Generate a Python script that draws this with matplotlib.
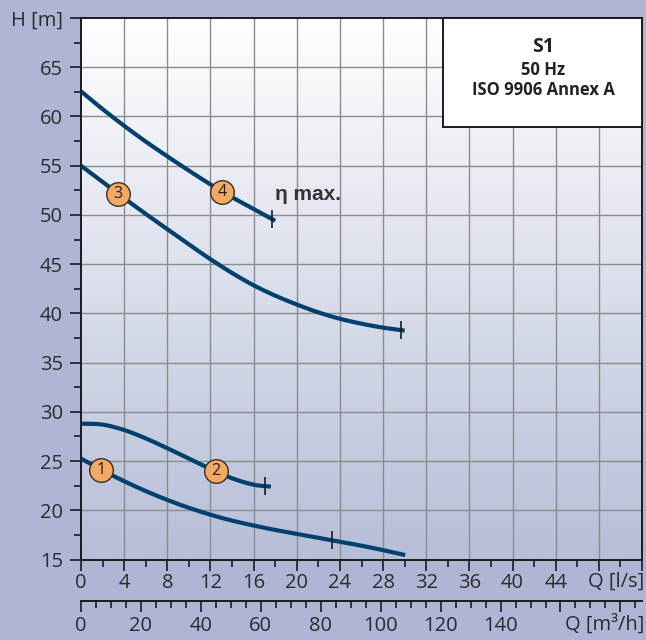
import numpy as np
import matplotlib
matplotlib.use("Agg")
import matplotlib.pyplot as plt
from matplotlib.patches import Rectangle

# ---- data (Q in l/s, H in m) ----
q_c1 = [0, 2, 4, 6, 8, 10, 12, 14, 16, 18, 20, 22, 24, 26, 28, 30.05]
h_c1 = [25.25, 24.05, 22.95, 21.95, 21.05, 20.25, 19.55, 18.95, 18.45, 18.0, 17.6, 17.2, 16.8, 16.4, 15.95, 15.45]

q_c2 = [0, 2, 4, 6, 8, 10, 12, 14, 16, 17.6]
h_c2 = [28.8, 28.7, 28.15, 27.3, 26.3, 25.25, 24.2, 23.25, 22.6, 22.4]

q_c3 = [0, 2, 4, 6, 8, 10, 12, 14, 16, 18, 20, 22, 24, 26, 28, 30]
h_c3 = [55.0, 53.35, 51.7, 50.1, 48.55, 47.0, 45.5, 44.1, 42.85, 41.8, 40.9, 40.1, 39.45, 38.95, 38.55, 38.25]

q_c4 = [0, 2, 4, 6, 8, 10, 12, 14, 16, 18.0]
h_c4 = [62.55, 60.75, 59.05, 57.45, 55.95, 54.5, 53.1, 51.8, 50.6, 49.4]

curve_labels = ["1", "2", "3", "4"]
label_q = [1.85, 12.5, 3.45, 13.1]      # position of numbered circles (l/s)
etamax_q = [23.25, 17.1, 29.67, 17.7]    # eta max tick positions (l/s)

x_ticks_ls = list(range(0, 49, 4))
x_tick_labels_ls = [str(v) for v in range(0, 45, 4)] + [""]
y_ticks = list(range(15, 71, 5))
y_tick_labels = [str(v) for v in range(15, 66, 5)] + ["H [m]"]
x_ticks_m3h = list(range(0, 181, 20))
x_tick_labels_m3h = [str(v) for v in range(0, 141, 20)] + ["", ""]

legend_lines = ["S1", "50 Hz", "ISO 9906 Annex A"]
eta_text = "η max."

# ---- style ----
FONT = "Open Sans"
plt.rcParams['font.family'] = [FONT, 'DejaVu Sans']
BG = "#afb6d5"
CURVE = "#00406e"
TXT = "#2b2b2b"
FS = 14.5


def smooth(xs, ys, n=12):
    """Catmull-Rom spline through the given points (for drawing only)."""
    p = np.column_stack([xs, ys]).astype(float)
    p = np.vstack([2 * p[0] - p[1], p, 2 * p[-1] - p[-2]])
    out = []
    for i in range(1, len(p) - 2):
        p0, p1, p2, p3 = p[i - 1], p[i], p[i + 1], p[i + 2]
        tt = np.linspace(0, 1, n, endpoint=False)[:, None]
        seg = 0.5 * ((2 * p1) + (-p0 + p2) * tt + (2 * p0 - 5 * p1 + 4 * p2 - p3) * tt ** 2
                     + (-p0 + 3 * p1 - 3 * p2 + p3) * tt ** 3)
        out.append(seg)
    out.append(p[-2][None, :])
    out = np.vstack(out)
    return out[:, 0], out[:, 1]


fig = plt.figure(figsize=(6.46, 6.40), dpi=100, facecolor=BG)
W, H = 646, 640
l, r, b, t = 81, 642, 559.5, 18
ax = fig.add_axes([l / W, 1 - b / H, (r - l) / W, (b - t) / H])
ax.set_xlim(0, 52)
ax.set_ylim(15, 70)

# gradient background
grad = np.linspace(0, 1, 256).reshape(-1, 1)
top = np.array([1.0, 1.0, 1.0])
bot = np.array([182, 190, 216]) / 255.0
img = top[None, None, :] * (1 - grad[:, :, None]) + bot[None, None, :] * grad[:, :, None]
ax.imshow(img, extent=[0, 52, 15, 70], aspect='auto', origin='upper', zorder=-2)

# grid
for xv in range(4, 52, 4):
    ax.axvline(xv, color="#8c8c8c", lw=1.0, zorder=-1)
for yv in range(20, 70, 5):
    ax.axhline(yv, color="#8c8c8c", lw=1.0, zorder=-1)

for s in ax.spines.values():
    s.set_color("#1a1a1a")
    s.set_linewidth(1.4)

ax.set_xticks(x_ticks_ls + [52])
ax.set_xticklabels(x_tick_labels_ls + [""])
ax.set_xticks(np.arange(2, 52, 4), minor=True)
ax.set_yticks(y_ticks)
ax.set_yticklabels(y_tick_labels)
ax.set_yticks(np.arange(17.5, 70, 5), minor=True)
ax.tick_params(axis='both', which='major', direction='out', length=8, width=1.2,
               color="#1a1a1a", labelsize=FS, labelcolor=TXT)
ax.tick_params(axis='both', which='minor', direction='out', length=5, width=1.2, color="#1a1a1a")
ax.tick_params(axis='x', which='major', pad=2)
ax.tick_params(axis='y', which='major', pad=5)

# secondary x axis (m3/h)
axh = (b - t)
sec = ax.secondary_xaxis(-(601 - b) / axh, functions=(lambda q: np.asarray(q) * 3.6,
                                                       lambda m: np.asarray(m) / 3.6))
sec.set_xticks(x_ticks_m3h)
sec.set_xticklabels(x_tick_labels_m3h)
sec.set_xticks(np.arange(5, 188, 5), minor=True)
sec.tick_params(axis='x', which='major', direction='out', length=8, width=1.2,
                color="#1a1a1a", labelsize=FS, labelcolor=TXT, pad=3)
sec.tick_params(axis='x', which='minor', direction='out', length=5, width=1.2, color="#1a1a1a")
for s in sec.spines.values():
    s.set_color("#1a1a1a")
    s.set_linewidth(1.4)

fig.text(644 / W, 1 - 582 / H, "Q [l/s]", ha='right', va='center', fontsize=FS, color=TXT)
fig.text(644 / W, 1 - 625 / H, "Q [m³/h]", ha='right', va='center', fontsize=FS, color=TXT)

# curves
curves = [(q_c1, h_c1), (q_c2, h_c2), (q_c3, h_c3), (q_c4, h_c4)]
for (qq, hh), lab, lq, eq in zip(curves, curve_labels, label_q, etamax_q):
    sx, sy = smooth(qq, hh)
    ax.plot(sx, sy, color=CURVE, lw=3.0, solid_capstyle='butt', solid_joinstyle='round', zorder=3)
    ey = np.interp(eq, sx, sy)
    ax.plot([eq], [ey], marker='|', markersize=13, mew=1.2, color="#1a1a1a", zorder=4)
    ly = np.interp(lq, sx, sy)
    ax.plot([lq], [ly], marker='o', markersize=17, mfc="#f2a964", mec="#3a3024", mew=1.0, zorder=5)
    ax.text(lq, ly, lab, ha='center', va='center', fontsize=11.5, color="#222222", zorder=6)

ax.text(17.95, 52.1, eta_text, ha='left', va='center', fontsize=15, fontweight='bold',
        color="#333333", family=['Liberation Sans', 'DejaVu Sans'], zorder=6)

# legend box (axes fraction)
x0 = (443 - l) / (r - l)
y0 = (b - 127) / (b - t)
ax.add_patch(Rectangle((x0, y0), 1 - x0, 1 - y0, transform=ax.transAxes, facecolor='white',
                       edgecolor='#1a1a1a', lw=1.4, zorder=7, clip_on=False))
cx = (543 - l) / (r - l)
for txt, ypx, fs in zip(legend_lines, [47, 70, 90], [14, 12, 12]):
    ax.text(cx, (b - ypx) / (b - t), txt, transform=ax.transAxes, ha='center', va='center',
            fontsize=fs, fontweight='bold', color="#222222", zorder=8)

fig.savefig("out.png", dpi=100, facecolor=BG)
